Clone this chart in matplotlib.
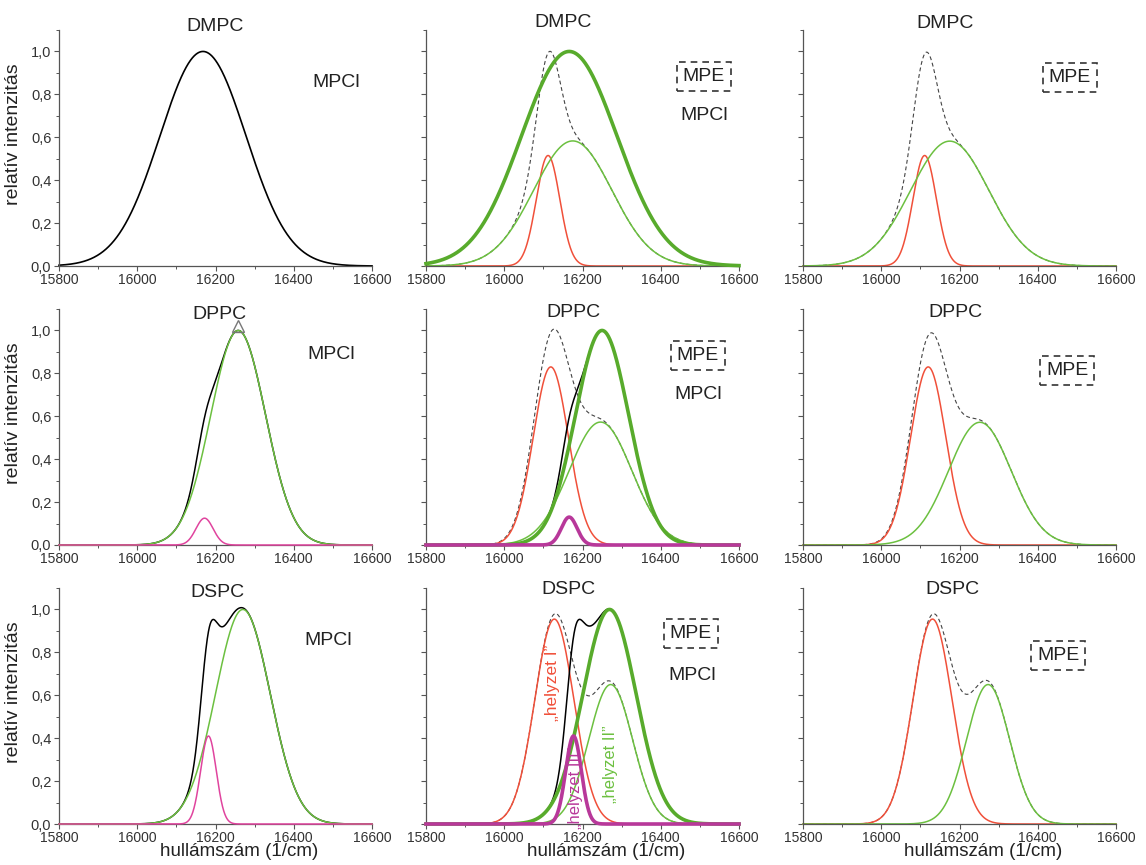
import numpy as np
import matplotlib.pyplot as plt
from matplotlib.ticker import MultipleLocator, FuncFormatter

plt.rcParams['font.family'] = ['Liberation Sans', 'DejaVu Sans']

# --- data: gaussian bands (centre 1/cm, height, sigma 1/cm) ---
lipids = ["DMPC", "DPPC", "DSPC"]

# column 1: MPCl spectrum alone
c1_main_center = [16168, 16258, 16270]
c1_main_height = [1.0, 1.0, 1.0]
c1_main_sigma = [110, 70, 70]
c1_mag_center = [16170, 16172, 16182]
c1_mag_height = [0.0, 0.125, 0.41]
c1_mag_sigma = [20, 22, 20]
c1_extra_center = [16200, 16190, 16215]     # rest of the measured (black) spectrum
c1_extra_height = [0.0, 0.0, 0.08]
c1_extra_sigma = [30, 30, 25]

# column 2: MPCl + MPE
c2_thick_center = [16166, 16250, 16269]
c2_thick_height = [1.0, 1.0, 1.0]
c2_thick_sigma = [122, 68, 68]
c2_mag_center = [16166, 16166, 16177]
c2_mag_height = [0.0, 0.13, 0.41]
c2_mag_sigma = [20, 20, 20]
c2_extra_center = [16200, 16185, 16205]
c2_extra_height = [0.0, 0.0, 0.14]
c2_extra_sigma = [30, 30, 22]
c2_red_center = [16112, 16119, 16128]
c2_red_height = [0.515, 0.83, 0.955]
c2_red_sigma = [30, 45, 50]
c2_green_center = [16175, 16246, 16272]
c2_green_height = [0.583, 0.573, 0.65]
c2_green_sigma = [100, 80, 56]

# column 3: MPE alone
c3_red_center = [16111, 16120, 16131]
c3_red_height = [0.515, 0.83, 0.955]
c3_red_sigma = [30, 45, 50]
c3_green_center = [16175, 16252, 16273]
c3_green_height = [0.582, 0.572, 0.65]
c3_green_sigma = [100, 80, 55]

xticks = [15800, 16000, 16200, 16400, 16600]

# --- style / layout ---
RED = '#f0503a'
GREEN = '#6cc040'
DGREEN = '#58ab2c'
MAG = '#e0449e'
DMAG = '#b8389a'
TXT = '#222222'

x = np.linspace(15800, 16600, 1601)


def band(c, h, s):
    return h * np.exp(-(x - c) ** 2 / (2.0 * s ** 2))


fig = plt.figure(figsize=(11.46, 8.65), dpi=100)
col_left = [59, 426, 803]
row_bottom = [266, 545, 824]
W, H = 313, 236

title_pos = [[(16199, 1.117), (16150, 1.135), (16163, 1.128)],
             [(16210, 1.074), (16177, 1.084), (16189, 1.084)],
             [(16205, 1.079), (16164, 1.093), (16182, 1.093)]]
mpcl1_pos = [(16508, 0.855), (16495, 0.89), (16488, 0.856)]
mpe2_pos = [(16510, 0.883), (16495, 0.884), (16477, 0.888)]
mpcl2_pos = [(16510, 0.70), (16495, 0.70), (16480, 0.69)]
mpe3_pos = [(16482, 0.88), (16475, 0.814), (16452, 0.786)]

box = dict(boxstyle='square,pad=0.3', fill=False, linestyle=(0, (4, 3)),
           edgecolor='#333333', linewidth=1.2)
dash = (0, (3.5, 2.5))


def style(ax, col, row):
    ax.set_xlim(15800, 16600)
    ax.set_ylim(0, 1.1)
    for s in ['top', 'right']:
        ax.spines[s].set_visible(False)
    for s in ['left', 'bottom']:
        ax.spines[s].set_color('#555555')
        ax.spines[s].set_linewidth(0.9)
    ax.set_xticks(xticks)
    ax.xaxis.set_minor_locator(MultipleLocator(100))
    ax.yaxis.set_major_locator(MultipleLocator(0.2))
    ax.yaxis.set_minor_locator(MultipleLocator(0.1))
    ax.yaxis.set_major_formatter(FuncFormatter(lambda v, p: ('%.1f' % v).replace('.', ',')))
    ax.tick_params(which='both', direction='out', color='#555555', labelcolor='#333333')
    ax.tick_params(which='major', length=3.5, width=0.8, pad=2)
    ax.tick_params(which='minor', length=2.5, width=0.7)
    ax.tick_params(axis='x', labelsize=10, pad=1.5)
    ax.tick_params(axis='y', labelsize=10.5)
    if col > 0:
        ax.tick_params(axis='y', labelleft=False)
    else:
        ax.set_ylabel('relatív intenzitás', fontsize=14, color=TXT)
        ax.yaxis.set_label_coords(-0.118, 0.56)
    if row == 2:
        ax.set_xlabel('hullámszám (1/cm)', fontsize=13.5, color=TXT)
        ax.xaxis.set_label_coords(0.575, -0.08)


for r in range(3):
    axes = []
    for c in range(3):
        ax = fig.add_axes([col_left[c] / 1146, 1 - row_bottom[r] / 865, W / 1146, H / 865])
        style(ax, c, r)
        tx, ty = title_pos[r][c]
        ax.text(tx, ty, lipids[r], ha='center', va='center', fontsize=14, color=TXT, clip_on=False)
        axes.append(ax)
    a1, a2, a3 = axes

    # column 1
    main = band(c1_main_center[r], c1_main_height[r], c1_main_sigma[r])
    mag = band(c1_mag_center[r], c1_mag_height[r], c1_mag_sigma[r])
    extra = band(c1_extra_center[r], c1_extra_height[r], c1_extra_sigma[r])
    if r == 0:
        a1.plot(x, main, color='black', lw=1.2, clip_on=False)
    else:
        a1.plot(x, main + mag + extra, color='black', lw=1.1, zorder=2, clip_on=False)
        a1.plot(x, main, color=GREEN, lw=1.1, zorder=3, clip_on=False)
        a1.plot(x, mag, color=MAG, lw=1.1, zorder=4, clip_on=False)
    if r == 1:
        a1.plot(c1_main_center[r], c1_main_height[r] + 0.02, marker='^', ms=8, mfc='none',
                mec='#777777', mew=1.0, zorder=5, clip_on=False)
    a1.text(*mpcl1_pos[r], 'MPCl', ha='center', va='center', fontsize=14, color=TXT)

    # column 2
    thick = band(c2_thick_center[r], c2_thick_height[r], c2_thick_sigma[r])
    mag2 = band(c2_mag_center[r], c2_mag_height[r], c2_mag_sigma[r])
    extra2 = band(c2_extra_center[r], c2_extra_height[r], c2_extra_sigma[r])
    red2 = band(c2_red_center[r], c2_red_height[r], c2_red_sigma[r])
    green2 = band(c2_green_center[r], c2_green_height[r], c2_green_sigma[r])
    a2.plot(x, red2 + green2, color='#444444', lw=0.8, ls=dash, zorder=1, clip_on=False)
    a2.plot(x, red2, color=RED, lw=1.1, zorder=2, clip_on=False)
    a2.plot(x, green2, color=GREEN, lw=1.1, zorder=2, clip_on=False)
    if r > 0:
        a2.plot(x, thick + mag2 + extra2, color='black', lw=1.1, zorder=2.5, clip_on=False)
    a2.plot(x, thick, color=DGREEN, lw=2.6, zorder=3, clip_on=False)
    if r > 0:
        a2.plot(x, mag2, color=DMAG, lw=2.6, zorder=4, clip_on=False)
    a2.text(*mpe2_pos[r], 'MPE', ha='center', va='center', fontsize=14, color=TXT, bbox=box)
    a2.text(*mpcl2_pos[r], 'MPCl', ha='center', va='center', fontsize=14, color=TXT)
    if r == 2:
        a2.text(16124, 0.66, '„helyzet I”', rotation=90, ha='center', va='center',
                fontsize=12.5, color=RED, zorder=6)
        a2.text(16182, 0.17, '„helyzet III”', rotation=90, ha='center', va='center',
                fontsize=12, color=DMAG, zorder=6)
        a2.text(16272, 0.28, '„helyzet II”', rotation=90, ha='center', va='center',
                fontsize=12, color=GREEN, zorder=6)

    # column 3
    red3 = band(c3_red_center[r], c3_red_height[r], c3_red_sigma[r])
    green3 = band(c3_green_center[r], c3_green_height[r], c3_green_sigma[r])
    a3.plot(x, red3 + green3, color='#444444', lw=0.8, ls=dash, zorder=1, clip_on=False)
    a3.plot(x, red3, color=RED, lw=1.1, zorder=2, clip_on=False)
    a3.plot(x, green3, color=GREEN, lw=1.1, zorder=2, clip_on=False)
    a3.text(*mpe3_pos[r], 'MPE', ha='center', va='center', fontsize=14, color=TXT, bbox=box)

fig.savefig('out.png', dpi=100)
